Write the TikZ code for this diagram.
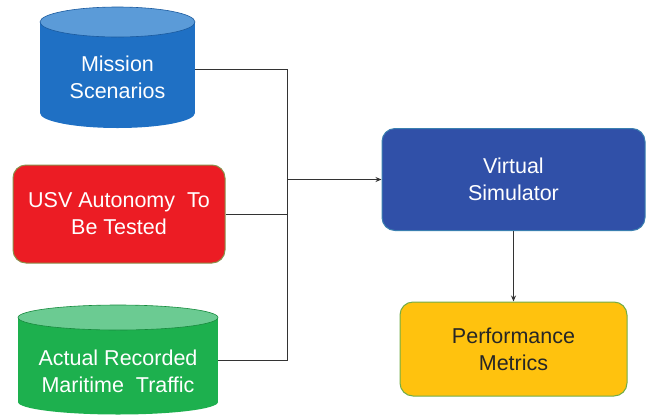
\documentclass[tikz,border=0pt]{standalone}
\usepackage{fontspec}
\setmainfont{Liberation Sans}
\usetikzlibrary{arrows.meta}
\definecolor{msbody}{HTML}{1F70C4}
\definecolor{mstop}{HTML}{5B9BD8}
\definecolor{msedge}{HTML}{1A5A9E}
\definecolor{acbody}{HTML}{1DB04E}
\definecolor{actop}{HTML}{6BCB92}
\definecolor{acedge}{HTML}{168A3D}
\definecolor{usvred}{HTML}{EC1C24}
\definecolor{usvedge}{HTML}{8A8F4A}
\definecolor{vsblue}{HTML}{3050A8}
\definecolor{vsedge}{HTML}{3A7FB0}
\definecolor{pmyellow}{HTML}{FFC20E}
\definecolor{pmedge}{HTML}{72AD47}
\definecolor{linegray}{HTML}{333333}
\tikzset{
  lbl/.style={font=\fontsize{21.5}{27}\selectfont, align=center, text=white},
  area/.style={inner sep=0pt},
  boxnode/.style={rounded corners=13pt, line width=1pt, align=center, font=\fontsize{21.5}{27}\selectfont, inner sep=0pt},
  conn/.style={draw=linegray, line width=0.9pt},
  arr/.style={conn, -{Stealth[length=6pt,width=5pt]}},
}
\begin{document}
\begin{tikzpicture}[x=1pt,y=-1pt]
\useasboundingbox (0,0) rectangle (646,416);
% Mission Scenarios cylinder
\fill[msbody] (117.5,113) ellipse (77.5pt and 15pt);
\fill[msbody] (40,22) rectangle (195,113);
\filldraw[fill=mstop, draw=msedge, line width=0.6pt] (117.5,22) ellipse (77.5pt and 15pt);
\node[area, minimum width=155pt, minimum height=121pt] (ms) at (117.5,69) {};
\node[lbl] (mstext) at (117.5,77) {Mission\\Scenarios};
% USV box
\node[boxnode, fill=usvred, draw=usvedge, text=white, minimum width=212pt, minimum height=98pt] (usv) at (119,214) {USV Autonomy~ To\\Be Tested};
% Actual Recorded cylinder
\fill[acbody] (118,402) ellipse (100pt and 12.5pt);
\fill[acbody] (18,317.5) rectangle (218,402);
\filldraw[fill=actop, draw=acedge, line width=0.6pt] (118,317.5) ellipse (100pt and 12.5pt);
\node[area, minimum width=200pt, minimum height=110pt] (ac) at (118,360) {};
\node[lbl] (actext) at (118,371) {Actual Recorded\\Maritime~ Traffic};
% Virtual Simulator
\node[boxnode, fill=vsblue, draw=vsedge, text=white, minimum width=263pt, minimum height=102pt] (vs) at (513.5,179.5) {Virtual\\Simulator};
% Performance Metrics
\node[boxnode, fill=pmyellow, draw=pmedge, text=black!85, minimum width=227pt, minimum height=94pt] (pm) at (513.5,349) {Performance\\Metrics};
% connectors
\coordinate (j) at (287,179.5);
\draw[conn] (ms.east) -| (j);
\draw[conn] (ac.east) -| (j);
\draw[conn] (usv.east) -- (usv.east -| j);
\draw[arr] (j) -- (vs.west);
\draw[arr] (vs.south) -- (pm.north);
\end{tikzpicture}
\end{document}
